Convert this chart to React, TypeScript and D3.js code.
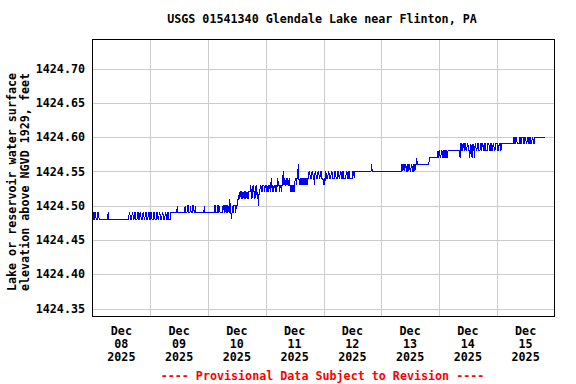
import { useEffect, useRef } from "react";
import * as d3 from "d3";

const TITLE = "USGS 01541340 Glendale Lake near Flinton, PA";
const Y_TITLE = ["Lake or reservoir water surface", "elevation above NGVD 1929, feet"];
const FOOTER = "---- Provisional Data Subject to Revision ----";

// 15-minute readings, one string per day from midnight (spaces are only for reading).
// each char = hundredths of a foot above BASE_LEVEL (base-36 digit: a = 10, b = 11 ...)
const BASE_LEVEL = 1424.47;
const DAYS = [8, 9, 10, 11, 12, 13, 14, 15];
const READINGS = [
  "2211221112211 1111111111111 2 11111111111111111 11111111111111111 22111221122111221122111221122111221",
  "12211 12211 1221 12211 12211 1221 122111 2 2222222222 3 222222222222 32223322232223322322 222222222222 3 22222",
  "22222222222 33222332322222332332332 3243212 323332333 44545545454554545455 56545655456545 3 55665566656",
  "656565665 7 6565665656 7 66566566 8 67667676676 65656656 77677 9 76767 6767677676 77887778877688777887788777",
  "676787 77 88 777 88 7777 88 777 88 77 88 77 88 7777 88 77 88 77777 88 7 8888888888888888888888888888 9 888888888888888",
  "8888888888888888888888888888888888 99899899 88 9989 88 998899899 a 99999999999999999999 aaaaaaaaaaaaaa ba",
  "bbaabbaabbabbaab bbbbbbbbbbbbbbbbbbb a ccbbccbccbbccbb a bcb a cbc a cc bb cc bbb cc b cc bb cc bbb ccc bb cc bb cc bb c",
  "ccbbcccb cccccccccccccccccccc ddccdd cccc ddccddd cc ddccdd cc ddccddccdddd dddddddddddddd",
];
const Y_TICKS = [1424.35, 1424.4, 1424.45, 1424.5, 1424.55, 1424.6, 1424.65, 1424.7];

interface Reading {
  t: Date;
  v: number;
}

const FONT = "'DejaVu Sans Mono', monospace";

export default function App() {
  const svgRef = useRef<SVGSVGElement>(null);

  useEffect(() => {
    if (!svgRef.current) return;
    const svg = d3.select(svgRef.current);
    svg.selectAll("*").remove();

    const W = 576, H = 384;
    const plot = { left: 92.5, right: 554.5, top: 39.5, bottom: 316.5 };

    const data: Reading[] = READINGS.flatMap((s, d) =>
      s.replace(/\s/g, "").split("").map((c, i) => ({
        t: new Date(2025, 11, DAYS[d], 0, i * 15),
        v: BASE_LEVEL + parseInt(c, 36) / 100,
      }))
    );

    const x = d3.scaleTime()
      .domain([new Date(2025, 11, DAYS[0]), new Date(2025, 11, DAYS[DAYS.length - 1] + 1)])
      .range([plot.left, plot.right]);

    const y = d3.scaleLinear()
      .domain([1424.35, 1424.7])
      .range([308.5, 68.5]);

    svg.attr("width", W).attr("height", H).attr("viewBox", `0 0 ${W} ${H}`);

    svg.append("rect").attr("width", W).attr("height", H).attr("fill", "#fff");

    // --- Grid ---
    const grid = svg.append("g").attr("stroke", "#cccccc").attr("shape-rendering", "crispEdges");
    grid.selectAll("line.h")
      .data(Y_TICKS)
      .join("line")
      .attr("class", "h")
      .attr("x1", plot.left).attr("x2", plot.right)
      .attr("y1", (d) => Math.round(y(d)) + 0.5).attr("y2", (d) => Math.round(y(d)) + 0.5);

    const midnights = DAYS.slice(1).map((d) => new Date(2025, 11, d));
    grid.selectAll("line.v")
      .data(midnights)
      .join("line")
      .attr("class", "v")
      .attr("y1", plot.top).attr("y2", plot.bottom)
      .attr("x1", (d) => Math.round(x(d)) + 0.5).attr("x2", (d) => Math.round(x(d)) + 0.5);

    // --- Series ---
    const line = d3.line<Reading>().x((d) => x(d.t)).y((d) => y(d.v));
    svg.append("path")
      .datum(data)
      .attr("fill", "none")
      .attr("stroke", "#0000ff")
      .attr("stroke-width", 1)
      .attr("shape-rendering", "crispEdges")
      .attr("d", line);

    // --- Frame ---
    svg.append("rect")
      .attr("x", plot.left).attr("y", plot.top)
      .attr("width", plot.right - plot.left).attr("height", plot.bottom - plot.top)
      .attr("fill", "none").attr("stroke", "#000")
      .attr("shape-rendering", "crispEdges");

    const txt = svg.append("g")
      .attr("font-family", FONT)
      .attr("font-weight", "bold")
      .attr("font-size", "11.7px")
      .attr("fill", "#000");

    // Y tick labels
    txt.selectAll("text.yt")
      .data(Y_TICKS)
      .join("text")
      .attr("class", "yt")
      .attr("x", 85)
      .attr("y", (d) => y(d))
      .attr("dy", "0.36em")
      .attr("text-anchor", "end")
      .text((d) => d3.format(".2f")(d));

    // X tick labels at noon of each day
    const fmtDay = d3.timeFormat("%d");
    const fmtYear = d3.timeFormat("%Y");
    const fmtMon = d3.timeFormat("%b");
    DAYS.forEach((day) => {
      const t = new Date(2025, 11, day, 12);
      const cx = x(t);
      [fmtMon(t), fmtDay(t), fmtYear(t)].forEach((s, k) => {
        txt.append("text")
          .attr("x", cx).attr("y", 335 + k * 13)
          .attr("text-anchor", "middle")
          .text(s);
      });
    });

    // Title
    txt.append("text")
      .attr("x", 322).attr("y", 23)
      .attr("text-anchor", "middle")
      .text(TITLE);

    // Y axis title
    Y_TITLE.forEach((s, k) => {
      txt.append("text")
        .attr("transform", `translate(${15.5 + k * 13.5},182) rotate(-90)`)
        .attr("text-anchor", "middle")
        .text(s);
    });

    // Footer
    txt.append("text")
      .attr("x", 322.5).attr("y", 379.5)
      .attr("text-anchor", "middle")
      .attr("fill", "#ff0000")
      .text(FOOTER);
  }, []);

  return (
    <svg
      ref={svgRef}
      style={{ position: "absolute", left: 0, top: 0, display: "block" }}
    />
  );
}
